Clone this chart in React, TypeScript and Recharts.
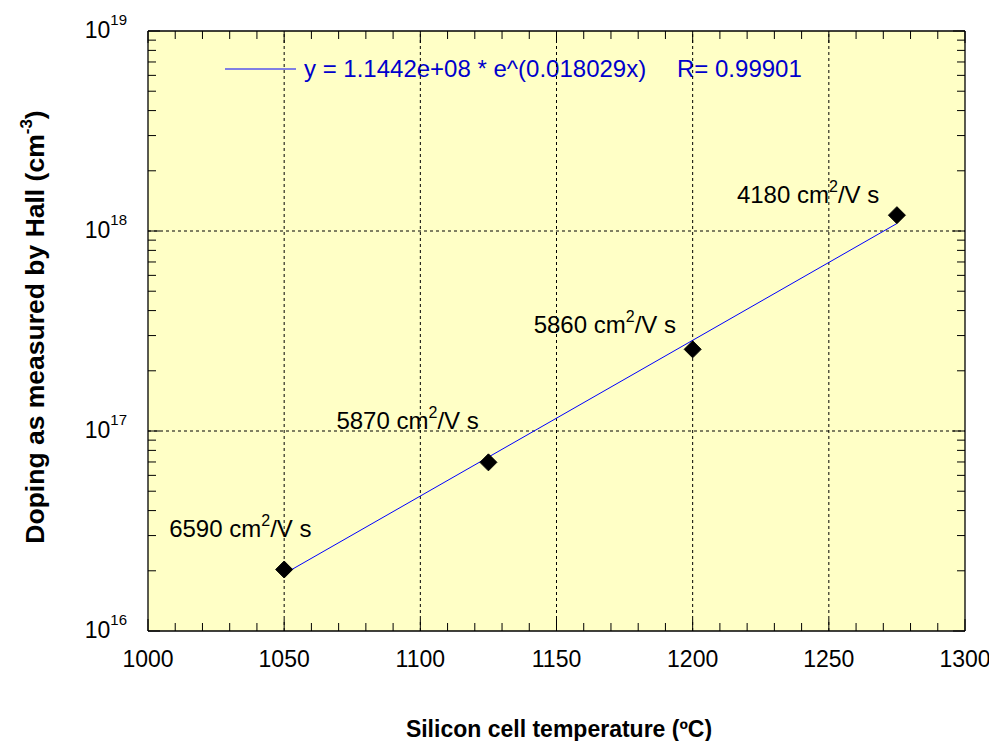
import React from 'react';
import {
  ComposedChart,
  Scatter,
  XAxis,
  YAxis,
  ReferenceLine,
  CartesianGrid,
  Customized,
} from 'recharts';

// ---- data ----
const temperatures = [1050, 1125, 1200, 1275];
const dopingValues = [2.03e16, 6.97e16, 2.56e17, 1.2e18];
const mobilityLabels = ['6590', '5870', '5860', '4180'];
const fitTemperatures = [1050, 1275];
const fitDoping = [1.93e16, 1.09e18];
const xMajorTicks = [1000, 1050, 1100, 1150, 1200, 1250, 1300];
const yMajorTicks = [1e16, 1e17, 1e18, 1e19];
const xGridLines = [1050, 1100, 1150, 1200, 1250];
const yGridLines = [1e17, 1e18];
const legendEquation = 'y = 1.1442e+08 * e^(0.018029x)';
const legendR = 'R= 0.99901';
const xTitle = 'Silicon cell temperature (\u00BAC)';
const yTitle = 'Doping as measured by Hall (cm';
const yTitleSup = '-3';

// ---- styling / layout constants ----
const FONT = '"Liberation Sans", Arial, Helvetica, sans-serif';
const BG = '#FFFFC6';
const W = 989;
const H = 733;
const labelOffsets = [
  [-115, -33],
  [-152, -33],
  [-159, -16],
  [-160, -12],
];

const xTicks: number[] = [];
for (let v = 1000; v <= 1300; v += 10) xTicks.push(v);
const yTicks: number[] = [];
for (let e = 16; e < 19; e++) for (let m = 1; m < 10; m++) yTicks.push(m * Math.pow(10, e));
yTicks.push(1e19);

const isMajorX = (v: number) => xMajorTicks.includes(v);
const isMajorY = (v: number) => {
  const l = Math.log10(v);
  return yMajorTicks.some((t) => Math.abs(Math.log10(t) - l) < 1e-6);
};

const points = temperatures.map((t, i) => ({ x: t, y: dopingValues[i], label: mobilityLabels[i], i }));
const fit = fitTemperatures.map((t, i) => ({ x: t, y: fitDoping[i] }));

const BottomTick = (props: any) => {
  const { x, y, payload } = props;
  const v = payload.value;
  const major = isMajorX(v);
  return (
    <g>
      <line x1={x} y1={y} x2={x} y2={y - (major ? 12 : 8)} stroke="#000" strokeWidth={1} />
      {major && (
        <text x={x} y={y + 36} textAnchor="middle" fontSize={23} fontFamily={FONT} fill="#000">
          {v}
        </text>
      )}
    </g>
  );
};

const TopTick = (props: any) => {
  const { x, y, payload } = props;
  const major = isMajorX(payload.value);
  return <line x1={x} y1={y} x2={x} y2={y + (major ? 12 : 8)} stroke="#000" strokeWidth={1} />;
};

const LeftTick = (props: any) => {
  const { x, y, payload } = props;
  const v = payload.value;
  const major = isMajorY(v);
  const exp = Math.round(Math.log10(v));
  return (
    <g>
      <line x1={x} y1={y} x2={x + (major ? 12 : 8)} y2={y} stroke="#000" strokeWidth={1} />
      {major && (
        <text x={x - 21} y={y + 7} textAnchor="end" fontSize={23} fontFamily={FONT} fill="#000">
          10
          <tspan dy={-13} fontSize={15}>
            {exp}
          </tspan>
        </text>
      )}
    </g>
  );
};

const RightTick = (props: any) => {
  const { x, y, payload } = props;
  const major = isMajorY(payload.value);
  return <line x1={x} y1={y} x2={x - (major ? 12 : 8)} y2={y} stroke="#000" strokeWidth={1} />;
};

const Diamond = (props: any) => {
  const { cx, cy, payload } = props;
  if (cx == null || cy == null) return <g />;
  const r = 8.5;
  const off = labelOffsets[payload.i] || [0, 0];
  return (
    <g>
      <polygon
        points={`${cx},${cy - r} ${cx + r},${cy} ${cx},${cy + r} ${cx - r},${cy}`}
        fill="#000"
        stroke="#000"
      />
      <text x={cx + off[0]} y={cy + off[1]} fontSize={24} fontFamily={FONT} fill="#000">
        {`${payload.label} cm`}
        <tspan dy={-11} fontSize={16}>
          2
        </tspan>
        <tspan dy={11}>/V s</tspan>
      </text>
    </g>
  );
};

const Overlay = () => (
  <g>
    {/* legend */}
    <line x1={217} y1={61} x2={288} y2={61} stroke="#0000ff" strokeWidth={1} />
    <text x={296} y={69} fontSize={24} fontFamily={FONT} fill="#0000CC">
      {legendEquation}
    </text>
    <text x={669} y={69} fontSize={24} fontFamily={FONT} fill="#0000CC">
      {legendR}
    </text>
    {/* axis titles */}
    <text x={551} y={729} textAnchor="middle" fontSize={23} fontWeight="bold" fontFamily={FONT} fill="#000">
      {xTitle}
    </text>
    <text
      x={36}
      y={319}
      textAnchor="middle"
      fontSize={26.5}
      fontWeight="bold"
      fontFamily={FONT}
      fill="#000"
      transform="rotate(-90, 36, 319)"
    >
      {yTitle}
      <tspan dy={-12} fontSize={17}>
        {yTitleSup}
      </tspan>
      <tspan dy={12}>)</tspan>
    </text>
  </g>
);

export default function App() {
  return (
    <div style={{ width: W, height: H }}>
      <ComposedChart
        width={W}
        height={H}
        margin={{ top: 22, right: 31, bottom: 30, left: 60 }}
        style={{ overflow: 'visible' }}
      >
        <CartesianGrid
          xAxisId="bottom"
          yAxisId="left"
          horizontal={false}
          vertical={false}
          fill={BG}
          fillOpacity={1}
          stroke="none"
        />
        <XAxis
          xAxisId="bottom"
          orientation="bottom"
          type="number"
          dataKey="x"
          domain={[1000, 1300]}
          ticks={xTicks}
          interval={0}
          tickSize={0}
          tickMargin={0}
          tickLine={false}
          axisLine={{ stroke: '#000', strokeWidth: 1.3 }}
          height={80}
          tick={(p: any) => <BottomTick {...p} />}
          allowDataOverflow
        />
        <XAxis
          xAxisId="top"
          orientation="top"
          type="number"
          dataKey="x"
          domain={[1000, 1300]}
          ticks={xTicks}
          interval={0}
          tickSize={0}
          tickMargin={0}
          tickLine={false}
          axisLine={{ stroke: '#000', strokeWidth: 1.3 }}
          height={1}
          tick={(p: any) => <TopTick {...p} />}
          allowDataOverflow
        />
        <YAxis
          yAxisId="left"
          orientation="left"
          type="number"
          dataKey="y"
          scale="log"
          domain={[1e16, 1e19]}
          ticks={yTicks}
          interval={0}
          tickSize={0}
          tickMargin={0}
          tickLine={false}
          axisLine={{ stroke: '#000', strokeWidth: 1.3 }}
          width={80}
          tick={(p: any) => <LeftTick {...p} />}
          allowDataOverflow
        />
        <YAxis
          yAxisId="right"
          orientation="right"
          type="number"
          dataKey="y"
          scale="log"
          domain={[1e16, 1e19]}
          ticks={yTicks}
          interval={0}
          tickSize={0}
          tickMargin={0}
          tickLine={false}
          axisLine={{ stroke: '#000', strokeWidth: 1.3 }}
          width={1}
          tick={(p: any) => <RightTick {...p} />}
          allowDataOverflow
        />
        {xGridLines.map((v) => (
          <ReferenceLine
            key={`gx${v}`}
            xAxisId="bottom"
            yAxisId="left"
            x={v}
            stroke="#000"
            strokeWidth={1}
            strokeDasharray="3 3"
          />
        ))}
        {yGridLines.map((v) => (
          <ReferenceLine
            key={`gy${v}`}
            xAxisId="bottom"
            yAxisId="left"
            y={v}
            stroke="#000"
            strokeWidth={1}
            strokeDasharray="3 3"
          />
        ))}
        <Scatter
          xAxisId="top"
          yAxisId="right"
          data={points}
          dataKey="y"
          shape={() => <g />}
          isAnimationActive={false}
        />
        <Scatter
          xAxisId="bottom"
          yAxisId="left"
          data={fit}
          dataKey="y"
          line={{ stroke: '#0000ff', strokeWidth: 1 }}
          shape={() => <g />}
          isAnimationActive={false}
        />
        <Scatter
          xAxisId="bottom"
          yAxisId="left"
          data={points}
          dataKey="y"
          shape={(p: any) => <Diamond {...p} />}
          isAnimationActive={false}
        />
        <Customized component={Overlay} />
      </ComposedChart>
    </div>
  );
}
